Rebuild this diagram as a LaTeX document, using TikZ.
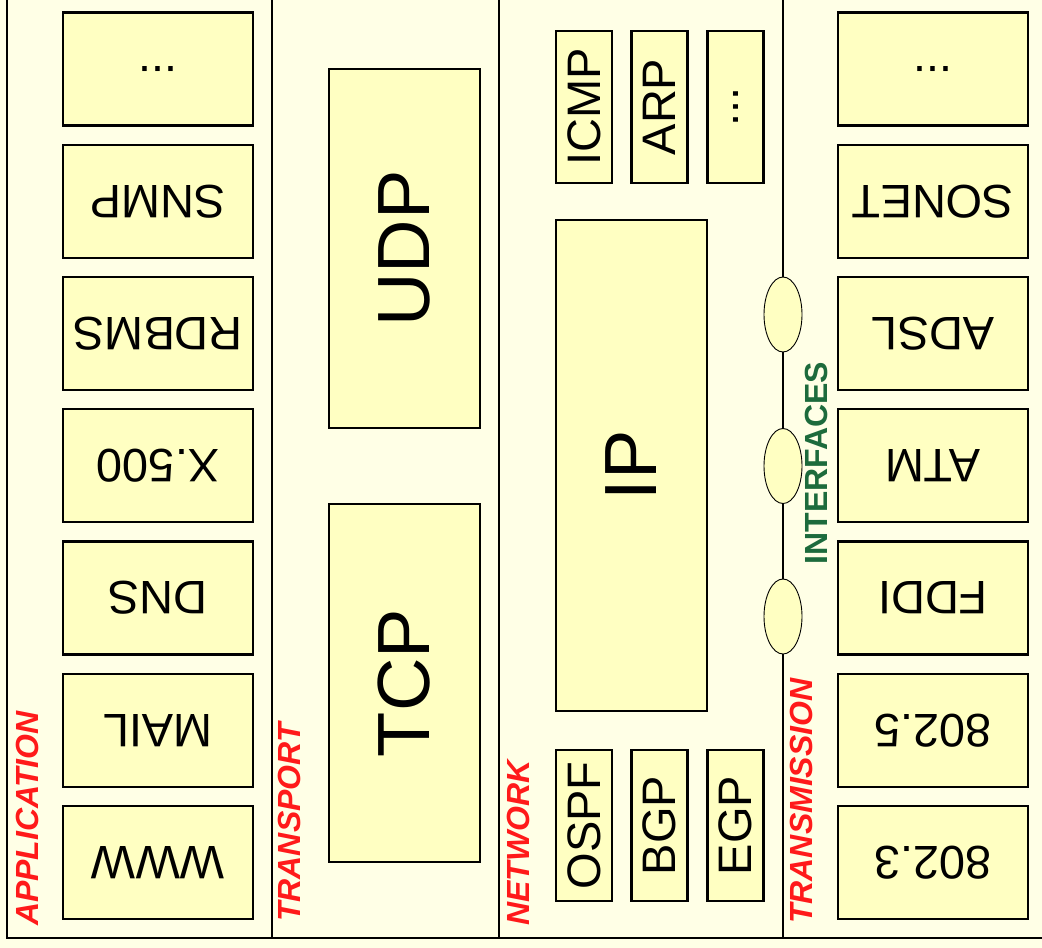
\documentclass[tikz,border=0pt]{standalone}
\usepackage{fontspec}
\setmainfont{Liberation Sans}
\usetikzlibrary{shapes.geometric}
\definecolor{PaperCream}{HTML}{FFFFE6}
\definecolor{BoxCream}{HTML}{FFFFC2}
\definecolor{LayerRed}{HTML}{FF1A1A}
\definecolor{IfGreen}{HTML}{1D6B3C}

\begin{document}
\begin{tikzpicture}[x=1pt,y=-1pt,
proto/.style={draw,line width=2.4pt,fill=BoxCream,inner sep=0pt,font=\fontsize{47}{47}\selectfont},
side/.style={proto,rotate=180,minimum width=190pt,minimum height=113pt},
slim/.style={proto,rotate=90,minimum width=152pt,minimum height=56pt},
big/.style={proto,rotate=90,minimum height=151pt,font=\fontsize{74}{74}\selectfont},
layer/.style={rotate=90,anchor=west,inner sep=0pt,text=LayerRed,font=\fontsize{32}{32}\selectfont\bfseries\itshape},
port/.style={ellipse,draw,line width=0.9pt,fill=BoxCream,minimum width=38pt,minimum height=75pt,inner sep=0pt}]
\fill[PaperCream] (0,0) rectangle (1042,948);
\useasboundingbox (0,0) rectangle (1042,948);
% frame and layer dividers
\draw[line width=2pt] (7,0) -- (7,938) -- (1042,938);
\draw[line width=2pt] (272,0) -- (272,938);
\draw[line width=2pt] (499,0) -- (499,938);
% application
\node[side] (appmore) at (158,69) {...};
\node[side] (snmp) at (158,201.25) {SNMP};
\node[side] (rdbms) at (158,333.5) {RDBMS};
\node[side] (xfive) at (158,465.75) {X.500};
\node[side] (dns) at (158,598) {DNS};
\node[side] (mail) at (158,730.25) {MAIL};
\node[side] (www) at (158,862.5) {WWW};
\node[layer] (lapp) at (27,926) {APPLICATION};
% transport
\node[big,minimum width=359pt] (udp) at (404.5,248.5) {UDP};
\node[big,minimum width=358pt] (tcp) at (404.5,683) {TCP};
\node[layer] (ltrans) at (289,922) {TRANSPORT};
% network
\node[slim] (icmp) at (584,107) {ICMP};
\node[slim] (arp) at (659.5,107) {ARP};
\node[slim] (netmore) at (735.5,107) {...};
\node[big,minimum width=491pt] (ip) at (631.5,465.5) {IP};
\node[slim,minimum width=151pt] (ospf) at (584,825.5) {OSPF};
\node[slim,minimum width=151pt] (bgp) at (659.5,825.5) {BGP};
\node[slim,minimum width=151pt] (egp) at (735.5,825.5) {EGP};
\node[layer] (lnet) at (518,926) {NETWORK};
% interfaces
\coordinate (bustop) at (783,0);
\coordinate (busbot) at (783,938);
\node[port] (pa) at (783,314.5) {};
\node[port] (pb) at (783,466) {};
\node[port] (pc) at (783,616.5) {};
\draw[line width=2pt] (bustop) -- (pa) -- (pb) -- (pc) -- (busbot);
\node[rotate=90,inner sep=0pt,text=IfGreen,font=\fontsize{32}{32}\selectfont\bfseries] (iface) at (816,463) {INTERFACES};
% transmission
\node[side] (txmore) at (933,69) {...};
\node[side] (sonet) at (933,201.25) {SONET};
\node[side] (adsl) at (933,333.5) {ADSL};
\node[side] (atm) at (933,465.75) {ATM};
\node[side] (fddi) at (933,598) {FDDI};
\node[side] (tokring) at (933,730.25) {802.5};
\node[side] (ether) at (933,862.5) {802.3};
\node[layer] (ltx) at (801,924) {TRANSMISSION};
\end{tikzpicture}
\end{document}
